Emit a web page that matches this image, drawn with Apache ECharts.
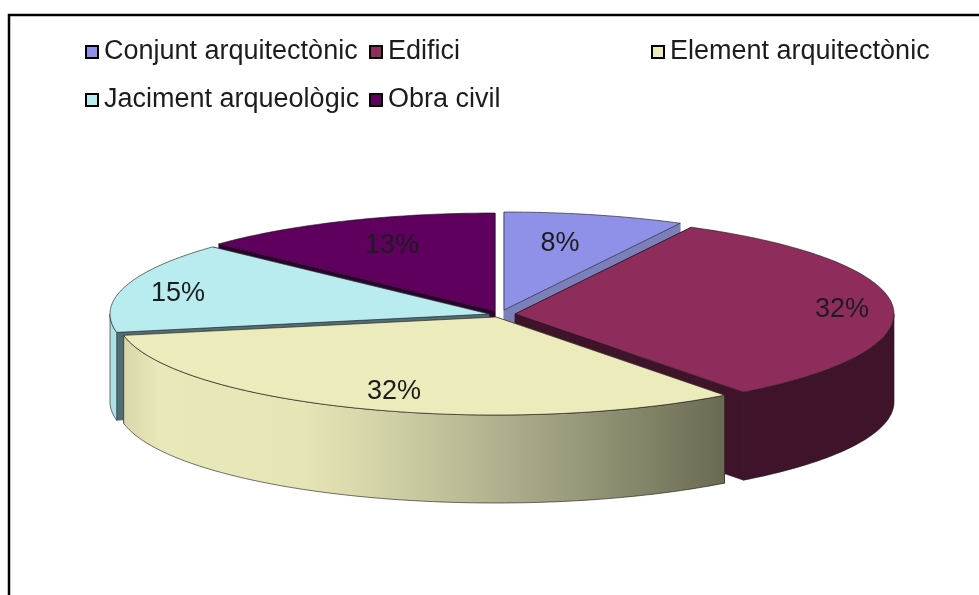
<!DOCTYPE html>
<html><head><meta charset="utf-8">
<style>html,body{margin:0;padding:0;background:#fff}#c{width:979px;height:595px}</style>
<script src="https://cdn.jsdelivr.net/npm/echarts@6/dist/echarts.min.js"></script>
</head><body><div id="c"></div>
<script>
const categories = ['Conjunt arquitectònic','Edifici','Element arquitectònic','Jaciment arqueològic','Obra civil'];
const values = [7.7,32,32.3,15,13];

const total = values.reduce((a,b)=>a+b,0);
const RX = 379, RY = 98, DEPTH = 88, FONT = '27px "Liberation Sans", Arial, sans-serif';
const look = [
  {c:[504,310], top:'#8f90e8', cut:'#7b80ba', wall:'#7b80ba', z:1, lr:[56,-66]},
  {c:[515,314], top:'#8e2d5c', cut:'#3f142b', wall:'#3f142b', z:4, lr:[327,-4]},
  {c:[496,317], top:'#ecebbb', cut:'#6c6c54', z:5, lr:[-102,75],
   wall:{type:'linear',x:0,y:0,x2:1,y2:0,colorStops:[
     {offset:0,color:'#d8d7ab'},{offset:.06,color:'#e9e8b8'},{offset:.3,color:'#e6e5b6'},
     {offset:.45,color:'#cfcfa5'},{offset:.7,color:'#a3a384'},{offset:1,color:'#6a6a52'}]}},
  {c:[489,314], top:'#b8ecee', cut:'#4f6d74', wall:'#aee0e4', z:3, lr:[-311,-20]},
  {c:[495,311], top:'#5f005f', cut:'#30002f', wall:'#30002f', z:2, lr:[-103,-65]}
];
const rad = d => d*Math.PI/180;
const rim = (c,a,dy=0) => [c[0]+RX*Math.sin(rad(a)), c[1]-RY*Math.cos(rad(a))+dy];
const arc = (c,a0,a1,dy=0) => {
  const p=[]; const n=Math.max(2,Math.ceil(Math.abs(a1-a0)));
  for(let i=0;i<=n;i++) p.push(rim(c,a0+(a1-a0)*i/n,dy));
  return p;
};
const starts = []; values.reduce((acc,v,i)=>{starts[i]=acc; return acc+v/total*360;},0);

function renderSlice(i){
  const v = values[i], s = look[i], c = s.c;
  const a0 = starts[i], a1 = a0 + v/total*360;
  const line = {stroke:'rgba(20,20,20,.75)', lineWidth:.8};
  const cutFace = a => {
    const r = rim(c,a);
    return {type:'polygon', shape:{points:[c,r,[r[0],r[1]+DEPTH],[c[0],c[1]+DEPTH]]},
            style:Object.assign({fill:s.cut},{stroke:s.cut,lineWidth:.5})};
  };
  const children = [cutFace(a0), cutFace(a1)];
  const w0 = Math.max(a0,90), w1 = Math.min(a1,270);
  if (w1 > w0) {
    const pts = arc(c,w0,w1).concat(arc(c,w1,w0,DEPTH));
    children.push({type:'polygon', shape:{points:pts}, style:Object.assign({fill:s.wall},line)});
  }
  children.push({type:'polygon', shape:{points:[c].concat(arc(c,a0,a1))}, style:Object.assign({fill:s.top},line)});
  children.push({type:'text', style:{text:Math.round(v/total*100)+'%', x:c[0]+s.lr[0], y:c[1]+s.lr[1],
    align:'center', verticalAlign:'middle', font:FONT, fill:'#1c1c20'}});
  return {type:'group', children};
}

const series = categories.map((name,i)=>({
  type:'custom', name, coordinateSystem:'none', silent:true, z:look[i].z+2,
  itemStyle:{color:look[i].top}, data:[[values[i]]],
  renderItem:()=>renderSlice(i)
}));
const leg = (names,left) => ({
  left, top:36, orient:'vertical', itemGap:16, itemWidth:12, itemHeight:12, padding:0,
  icon:'rect', selectedMode:false, data:names,
  itemStyle:{borderColor:'#000',borderWidth:2},
  textStyle:{fontFamily:'"Liberation Sans", Arial, sans-serif',fontSize:27,color:'#1c1c1c',padding:[4,0,0,1],lineHeight:28}
});
const chart = echarts.init(document.getElementById('c'),null,{renderer:'canvas'});
chart.setOption({
  animation:false, backgroundColor:'#fff',
  legend:[leg([categories[0],categories[3]],85), leg([categories[1],categories[4]],369), leg([categories[2]],651)],
  graphic:[{type:'polyline',silent:true,z:0,shape:{points:[[9,595],[9,15],[979,15]]},style:{stroke:'#000',lineWidth:2.5,fill:null}}],
  series
});
</script></body></html>
